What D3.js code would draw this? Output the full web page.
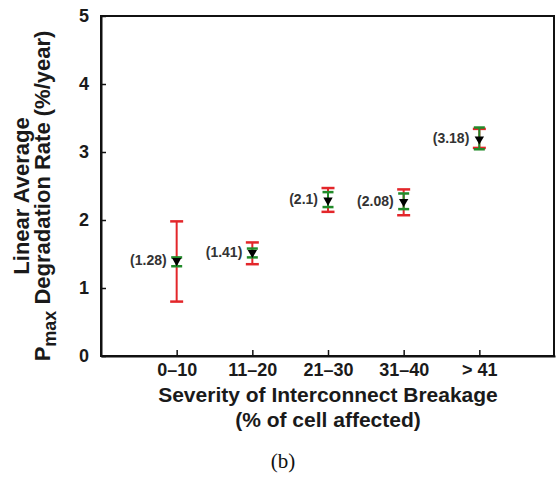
<!DOCTYPE html>
<html>
<head>
<meta charset="utf-8">
<script src="https://cdn.jsdelivr.net/npm/d3@7"></script>
<style>
  body { margin: 0; background: #fff; }
  svg text { font-family: "Liberation Sans", Arial, sans-serif; font-weight: bold; }
</style>
</head>
<body>
<div id="chart"></div>
<script>
// Categories and values
const categories = ["0–10", "11–20", "21–30", "31–40", "> 41"];
const means = [1.40, 1.52, 2.29, 2.27, 3.19];
const valueLabels = ["(1.28)", "(1.41)", "(2.1)", "(2.08)", "(3.18)"];
const redLow = [0.80, 1.35, 2.12, 2.07, 3.06];
const redHigh = [1.98, 1.67, 2.47, 2.45, 3.34];
const greenLow = [1.32, 1.45, 2.19, 2.16, 3.04];
const greenHigh = [1.45, 1.58, 2.41, 2.39, 3.36];
const yTicks = [0, 1, 2, 3, 4, 5];

const width = 557, height = 479;
const margin = { top: 16, right: 2, bottom: 123, left: 101 };

const data = categories.map((c, i) => ({
  cat: c, mean: means[i], label: valueLabels[i],
  rLo: redLow[i], rHi: redHigh[i], gLo: greenLow[i], gHi: greenHigh[i]
}));

const svg = d3.select("#chart").append("svg")
  .attr("width", width)
  .attr("height", height);

// Scales
const x = d3.scalePoint()
  .domain(categories)
  .range([margin.left, width - margin.right])
  .padding(1);

const y = d3.scaleLinear()
  .domain([0, 5])
  .range([height - margin.bottom, margin.top]);

// Frame
svg.append("rect")
  .attr("x", margin.left)
  .attr("y", margin.top)
  .attr("width", width - margin.right - margin.left - 1)
  .attr("height", height - margin.bottom - margin.top)
  .attr("fill", "none")
  .attr("stroke", "#111")
  .attr("stroke-width", 2);

// Axes with inward ticks
const xAxis = svg.append("g")
  .attr("transform", `translate(0,${height - margin.bottom})`)
  .call(d3.axisBottom(x).tickSizeInner(-6).tickSizeOuter(0).tickPadding(7));

const yAxis = svg.append("g")
  .attr("transform", `translate(${margin.left},0)`)
  .call(d3.axisLeft(y).tickValues(yTicks).tickFormat(d3.format("d"))
    .tickSizeInner(-5).tickSizeOuter(0).tickPadding(12));

[xAxis, yAxis].forEach(g => {
  g.select(".domain").attr("stroke", "#111").attr("stroke-width", 2);
  g.selectAll(".tick line").attr("stroke", "#111").attr("stroke-width", 1.5);
  g.selectAll(".tick text")
    .attr("fill", "#1a1a1a")
    .style("font-size", "18px")
    .style("font-family", "'Liberation Sans', Arial, sans-serif")
    .style("font-weight", "bold");
});

// Red error bars (behind)
const pts = svg.append("g").selectAll("g.pt")
  .data(data)
  .join("g")
  .attr("class", "pt");

pts.append("line")
  .attr("x1", d => x(d.cat)).attr("x2", d => x(d.cat))
  .attr("y1", d => y(d.rLo)).attr("y2", d => y(d.rHi))
  .attr("stroke", "#e3262a").attr("stroke-width", 2);

[["rLo"], ["rHi"]].forEach(([k]) => {
  pts.append("line")
    .attr("x1", d => x(d.cat) - 6.5).attr("x2", d => x(d.cat) + 6.5)
    .attr("y1", d => y(d[k])).attr("y2", d => y(d[k]))
    .attr("stroke", "#e3262a").attr("stroke-width", 2.5);
});

// Green error bars
pts.append("line")
  .attr("x1", d => x(d.cat)).attr("x2", d => x(d.cat))
  .attr("y1", d => y(d.gLo)).attr("y2", d => y(d.gHi))
  .attr("stroke", "#228b2a").attr("stroke-width", 2);

[["gLo"], ["gHi"]].forEach(([k]) => {
  pts.append("line")
    .attr("x1", d => x(d.cat) - 5.5).attr("x2", d => x(d.cat) + 5.5)
    .attr("y1", d => y(d[k])).attr("y2", d => y(d[k]))
    .attr("stroke", "#228b2a").attr("stroke-width", 2.5);
});

// Down-pointing triangle markers
pts.append("path")
  .attr("d", d3.symbol().type(d3.symbolTriangle).size(38))
  .attr("transform", d => `translate(${x(d.cat)},${y(d.mean)}) rotate(180)`)
  .attr("fill", "#000");

// Value labels
pts.append("text")
  .attr("x", d => x(d.cat) - 10)
  .attr("y", d => y(d.mean) + 4)
  .attr("text-anchor", "end")
  .attr("fill", "#333")
  .style("font-size", "14px")
  .text(d => d.label);

// Axis titles
const xMid = (margin.left + width - margin.right) / 2;
svg.append("text")
  .attr("x", xMid).attr("y", 402)
  .attr("text-anchor", "middle")
  .attr("fill", "#1a1a1a")
  .style("font-size", "21px")
  .text("Severity of Interconnect Breakage");

svg.append("text")
  .attr("x", xMid).attr("y", 427)
  .attr("text-anchor", "middle")
  .attr("fill", "#1a1a1a")
  .style("font-size", "21px")
  .text("(% of cell affected)");

const yMid = 196;
svg.append("text")
  .attr("transform", `translate(29,${yMid}) rotate(-90)`)
  .attr("text-anchor", "middle")
  .attr("fill", "#1a1a1a")
  .style("font-size", "22px")
  .text("Linear Average");

const t2 = svg.append("text")
  .attr("transform", `translate(50,${yMid}) rotate(-90)`)
  .attr("text-anchor", "middle")
  .attr("fill", "#1a1a1a")
  .style("font-size", "22px");
t2.append("tspan").text("P");
t2.append("tspan").attr("dy", 6).style("font-size", "18px").text("max");
t2.append("tspan").attr("dy", -6).text(" Degradation Rate (%/year)");

// Panel label
svg.append("text")
  .attr("x", 283).attr("y", 468)
  .attr("text-anchor", "middle")
  .attr("fill", "#111")
  .style("font-family", "'Liberation Serif', 'Times New Roman', serif")
  .style("font-weight", "normal")
  .style("font-size", "21px")
  .text("(b)");
</script>
</body>
</html>
